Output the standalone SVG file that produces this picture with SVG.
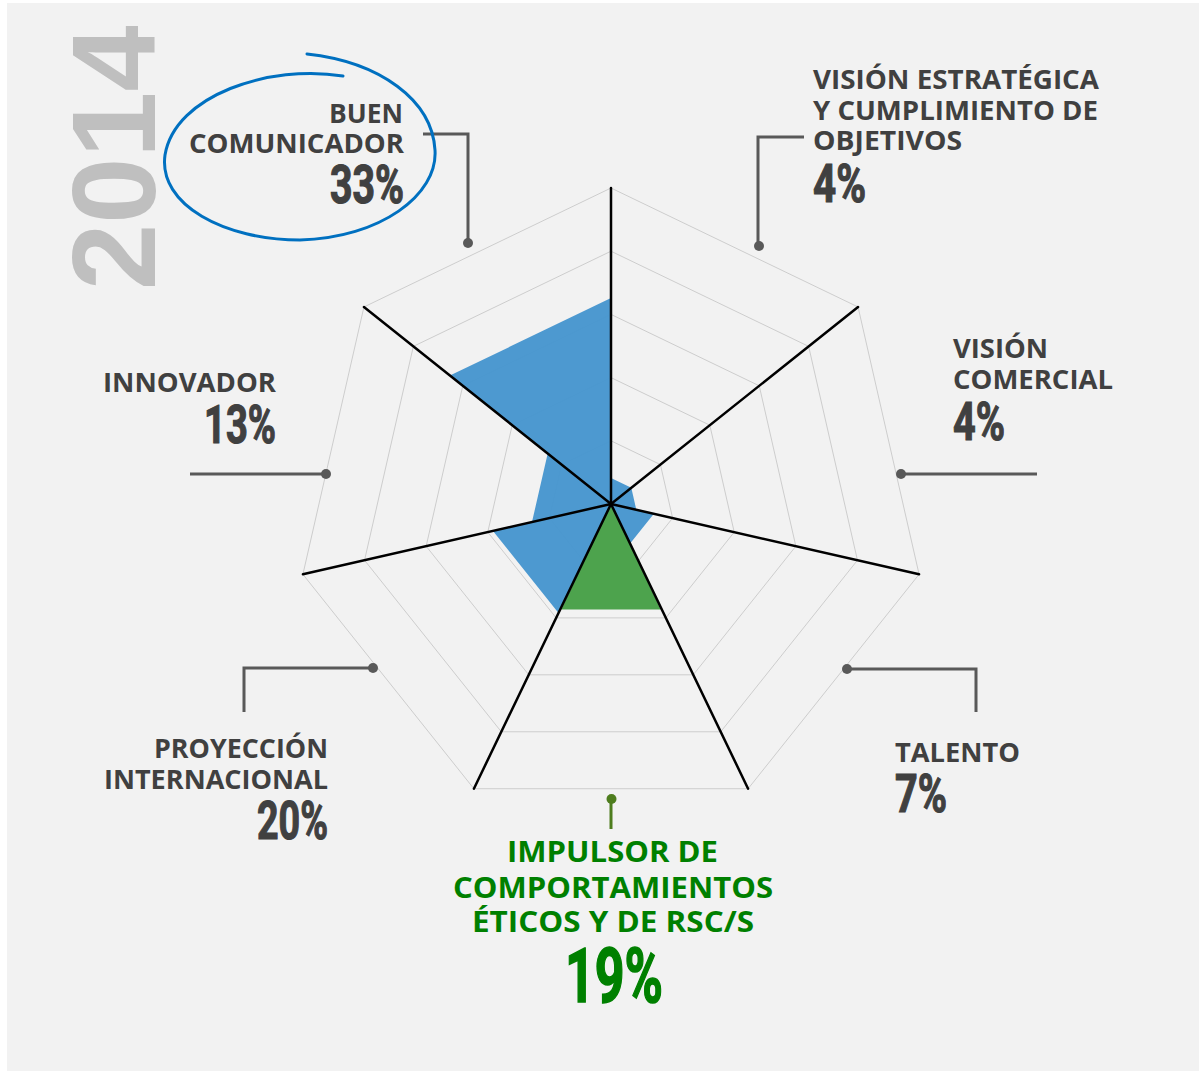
<svg xmlns="http://www.w3.org/2000/svg" width="1199" height="1071" viewBox="0 0 1199 1071">
<style>
.lbl{font-family:"Open Sans","DejaVu Sans",sans-serif;font-weight:700;font-size:26px;fill:#404040}
.pct{font-family:Roboto,"Liberation Sans",sans-serif;font-weight:700;font-size:53px;fill:#404040;stroke:#404040;stroke-width:1.2}
.grn{fill:#008000}
.pct.grn{stroke:#008000;stroke-width:1.6}
.ring{fill:none;stroke:#cdcdcd;stroke-width:1}
.axis{stroke:#000;stroke-width:2.5;stroke-linecap:round}
.lead{fill:none;stroke:#595959;stroke-width:3}
.dot{fill:#595959}
</style>
<rect x="0" y="0" width="1199" height="1071" fill="#ffffff"/>
<rect x="7" y="3" width="1192" height="1068" fill="#f2f2f2"/>

<text transform="translate(155,290) rotate(-90)" font-family="'Liberation Sans',Arial,sans-serif" font-weight="700" font-size="119" fill="#bfbfbf">2014</text>

<g id="grid">
<polygon class="ring" points="611,440.8 660.41,464.6 672.62,518.06 638.42,560.94 583.58,560.94 549.38,518.06 561.59,464.6"/>
<polygon class="ring" points="611,377.6 709.82,425.19 734.23,532.13 665.84,617.88 556.16,617.88 487.77,532.13 512.18,425.19"/>
<polygon class="ring" points="611,314.4 759.23,385.79 795.85,546.19 693.26,674.82 528.74,674.82 426.15,546.19 462.77,385.79"/>
<polygon class="ring" points="611,251.2 808.65,346.38 857.46,560.25 720.69,731.77 501.31,731.77 364.54,560.25 413.35,346.38"/>
<polygon class="ring" points="611,188 858.06,306.98 919.08,574.32 748.11,788.71 473.89,788.71 302.92,574.32 363.94,306.98"/>
</g>

<g id="data">
<polygon fill="#4796ce" fill-opacity="0.97" points="611,298 611,478 631.3,487.8 636.3,509.8 653.9,513.8 630.1,543.6 611,504 558.5,613 493,530.9 532,522 547.7,453.5 449.9,375.6"/>
<polygon fill="#49a149" fill-opacity="0.98" points="611,504 660.7,609.4 561.3,609.4"/>
</g>

<g id="connectors">
<g id="axes">
<line class="axis" x1="611" y1="504" x2="611" y2="188"/>
<line class="axis" x1="611" y1="504" x2="858.06" y2="306.98"/>
<line class="axis" x1="611" y1="504" x2="919.08" y2="574.32"/>
<line class="axis" x1="611" y1="504" x2="748.11" y2="788.71"/>
<line class="axis" x1="611" y1="504" x2="473.89" y2="788.71"/>
<line class="axis" x1="611" y1="504" x2="302.92" y2="574.32"/>
<line class="axis" x1="611" y1="504" x2="363.94" y2="306.98"/>
</g>
<polyline class="lead" points="423,134 468,134 468,243"/>
<circle class="dot" cx="468" cy="243" r="5"/>
<polyline class="lead" points="804,137 758,137 758,246"/>
<circle class="dot" cx="759" cy="246" r="5"/>
<polyline class="lead" points="1037,474 901,474"/>
<circle class="dot" cx="901" cy="474" r="5"/>
<polyline class="lead" points="847,669 976,669 976,712"/>
<circle class="dot" cx="847" cy="669" r="5"/>
<polyline class="lead" points="611,799 611,829" style="stroke:#4e7d1e"/>
<circle cx="611.5" cy="799" r="5" fill="#4e7d1e"/>
<polyline class="lead" points="373,668 244,668 244,712"/>
<circle class="dot" cx="373" cy="668" r="5"/>
<polyline class="lead" points="190,474 326,474"/>
<circle class="dot" cx="326" cy="474" r="5"/>
</g>

<g id="node-buen-comunicador">
<path d="M343,76 C270,64 175,95 165,155 C158,205 225,240 300,240 C380,238 438,195 435,150 C432,100 380,62 307,54" fill="none" stroke="#0070c0" stroke-width="3" stroke-linecap="round"/>
<text class="lbl" x="329" y="123" textLength="74" lengthAdjust="spacingAndGlyphs">BUEN</text>
<text class="lbl" x="189" y="153" textLength="215" lengthAdjust="spacingAndGlyphs">COMUNICADOR</text>
<text class="pct" x="330" y="203" textLength="74" lengthAdjust="spacingAndGlyphs">33%</text>
</g>

<g id="node-vision-estrategica">
<text class="lbl" x="813" y="89" textLength="286" lengthAdjust="spacingAndGlyphs">VISIÓN ESTRATÉGICA</text>
<text class="lbl" x="813" y="120" textLength="285" lengthAdjust="spacingAndGlyphs">Y CUMPLIMIENTO DE</text>
<text class="lbl" x="813" y="150" textLength="149" lengthAdjust="spacingAndGlyphs">OBJETIVOS</text>
<text class="pct" x="813" y="202" textLength="53" lengthAdjust="spacingAndGlyphs">4%</text>
</g>

<g id="node-vision-comercial">
<text class="lbl" x="953" y="358" textLength="95" lengthAdjust="spacingAndGlyphs">VISIÓN</text>
<text class="lbl" x="953" y="389" textLength="160" lengthAdjust="spacingAndGlyphs">COMERCIAL</text>
<text class="pct" x="953" y="440" textLength="52" lengthAdjust="spacingAndGlyphs">4%</text>
</g>

<g id="node-talento">
<text class="lbl" x="895" y="762" textLength="125" lengthAdjust="spacingAndGlyphs">TALENTO</text>
<text class="pct" x="895" y="812" textLength="52" lengthAdjust="spacingAndGlyphs">7%</text>
</g>

<g id="node-impulsor">
<text class="lbl grn" x="507" y="862" style="font-size:29px" textLength="211" lengthAdjust="spacingAndGlyphs">IMPULSOR DE</text>
<text class="lbl grn" x="453" y="898" style="font-size:29px" textLength="320" lengthAdjust="spacingAndGlyphs">COMPORTAMIENTOS</text>
<text class="lbl grn" x="472" y="932" style="font-size:29px" textLength="282" lengthAdjust="spacingAndGlyphs">ÉTICOS Y DE RSC/S</text>
<text class="pct grn" x="565" y="1002" style="font-size:76px" textLength="98" lengthAdjust="spacingAndGlyphs">19%</text>
</g>

<g id="node-proyeccion">
<text class="lbl" x="154" y="758" textLength="174" lengthAdjust="spacingAndGlyphs">PROYECCIÓN</text>
<text class="lbl" x="104" y="789" textLength="224" lengthAdjust="spacingAndGlyphs">INTERNACIONAL</text>
<text class="pct" x="257" y="839" textLength="71" lengthAdjust="spacingAndGlyphs">20%</text>
</g>

<g id="node-innovador">
<text class="lbl" x="103" y="392" textLength="173" lengthAdjust="spacingAndGlyphs">INNOVADOR</text>
<text class="pct" x="204" y="443" textLength="72" lengthAdjust="spacingAndGlyphs">13%</text>
</g>
</svg>
